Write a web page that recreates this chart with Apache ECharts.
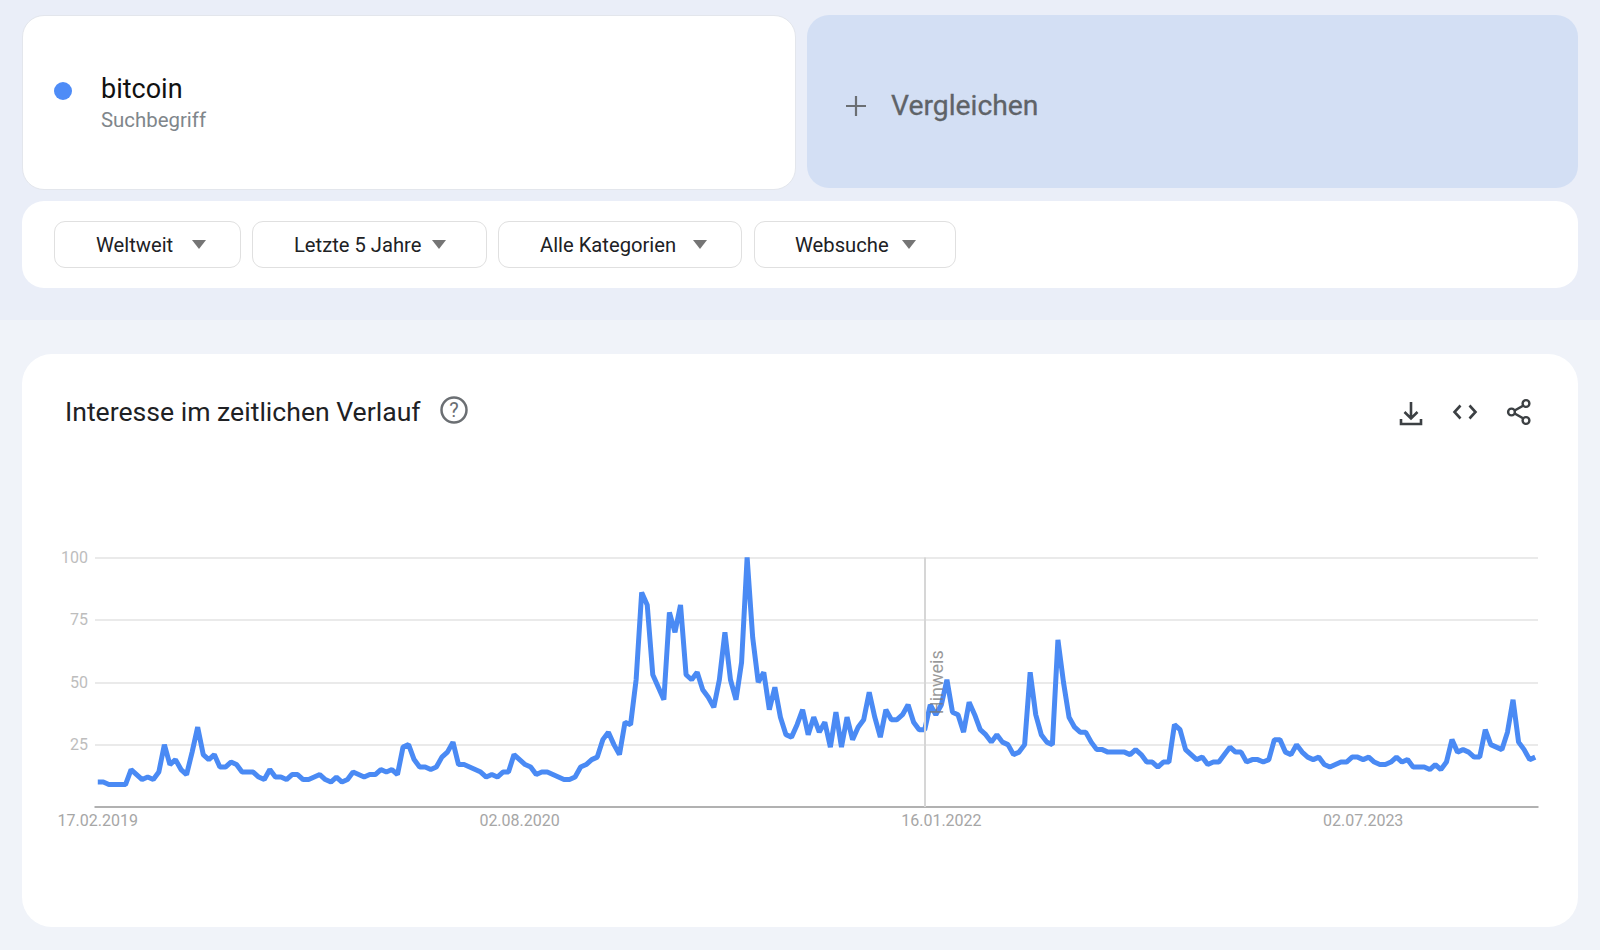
<!DOCTYPE html>
<html><head><meta charset="utf-8">
<script src="https://cdn.jsdelivr.net/npm/echarts@6/dist/echarts.min.js"></script>
<style>
html,body{margin:0;padding:0;width:1600px;height:950px;overflow:hidden;background:#f0f3f9;font-family:Roboto,"Open Sans",sans-serif}
.abs{position:absolute;box-sizing:border-box}
.t{position:absolute;white-space:nowrap;line-height:1}
.btn{position:absolute;box-sizing:border-box;top:221px;height:47px;background:#fff;border:1.5px solid #e0e0e0;border-radius:11px}
.btn span{position:absolute;top:12px;font-size:20.2px;line-height:22px;color:#202124;white-space:nowrap}
.btn i{position:absolute;top:18px;width:0;height:0;border-left:7.5px solid transparent;border-right:7.5px solid transparent;border-top:9px solid #757575}
#chart{position:absolute;left:0;top:0;width:1600px;height:950px}
</style></head><body>
<div class="abs" style="left:0;top:0;width:1600px;height:320px;background:#eaeef8"></div>
<div class="abs" style="left:22px;top:15px;width:774px;height:175px;background:#fff;border:1.5px solid #e3e6ec;border-radius:22px"></div>
<div class="abs" style="left:54px;top:82px;width:18px;height:18px;border-radius:50%;background:#4e8cf7"></div>
<div class="t" style="left:101px;top:76px;font-size:27px;color:#111">bitcoin</div>
<div class="t" style="left:101px;top:110px;font-size:20.4px;color:#80868b">Suchbegriff</div>
<div class="abs" style="left:807px;top:15px;width:771px;height:173px;background:#d3dff4;border-radius:22px"></div>
<svg class="abs" style="left:845px;top:95px" width="22" height="22"><path d="M11 1V21M1 11H21" stroke="#6b6f73" stroke-width="2.2"/></svg>
<div class="t" style="left:891px;top:92px;font-size:28.3px;font-weight:400;color:#5f6368;-webkit-text-stroke:0.3px #5f6368">Vergleichen</div>
<div class="abs" style="left:22px;top:201px;width:1556px;height:87px;background:#fff;border-radius:22px"></div>
<div class="btn" style="left:54px;width:187px"><span style="left:41px">Weltweit</span><i style="left:137px"></i></div>
<div class="btn" style="left:252px;width:235px"><span style="left:41px">Letzte 5 Jahre</span><i style="left:179px"></i></div>
<div class="btn" style="left:498px;width:244px"><span style="left:41px">Alle Kategorien</span><i style="left:194px"></i></div>
<div class="btn" style="left:754px;width:202px"><span style="left:40px">Websuche</span><i style="left:147px"></i></div>
<div class="abs" style="left:22px;top:354px;width:1556px;height:573px;background:#fff;border-radius:30px"></div>
<div class="t" style="left:65px;top:399px;font-size:26.6px;color:#202124">Interesse im zeitlichen Verlauf</div>
<svg class="abs" style="left:440px;top:396px" width="28" height="28"><circle cx="14" cy="14" r="12.5" fill="none" stroke="#6b6f73" stroke-width="2.5"/><text x="14" y="21" text-anchor="middle" font-family="Roboto" font-size="20" fill="#6b6f73">?</text></svg>
<svg class="abs" style="left:1397px;top:399px" width="28" height="28"><path d="M14 3V19M7.5 13L14 19.5L20.5 13M4 20V25H24V20" fill="none" stroke="#3c4043" stroke-width="2.6"/></svg>
<svg class="abs" style="left:1451px;top:399px" width="28" height="28"><path d="M9.5 6.5L3.5 13L9.5 19.5M18.5 6.5L24.5 13L18.5 19.5" fill="none" stroke="#3c4043" stroke-width="2.6"/></svg>
<svg class="abs" style="left:1505px;top:398px" width="28" height="28"><path d="M21 6L7 14L21 22" fill="none" stroke="#3c4043" stroke-width="2.4"/><circle cx="21" cy="5.5" r="3.4" fill="#fff" stroke="#3c4043" stroke-width="2.4"/><circle cx="6.5" cy="14" r="3.4" fill="#fff" stroke="#3c4043" stroke-width="2.4"/><circle cx="21" cy="22.5" r="3.4" fill="#fff" stroke="#3c4043" stroke-width="2.4"/></svg>
<div id="chart"></div>
<script>
const startDate = "2019-02-17";
const xTickLabels = ["17.02.2019","02.08.2020","16.01.2022","02.07.2023"];
const yTickLabels = [25,50,75,100];
const noteLabel = "Hinweis";
const noteIndex = 149;
const bitcoin = [
10,10,9,9,9,9,15,13,11,12,11,14,25,17,19,15,13,22,32,21,19,21,16,16,18,17,14,14,14,12,
11,15,12,12,11,13,13,11,11,12,13,11,10,12,10,11,14,13,12,13,13,15,14,15,13,24,25,19,16,16,
15,16,20,22,26,17,17,16,15,14,12,13,12,14,14,21,19,17,16,13,14,14,13,12,11,11,12,16,17,19,
20,27,30,25,21,34,33,51,86,81,53,48,43,78,70,81,53,51,54,47,44,40,51,70,51,43,58,100,68,50,
54,39,48,36,29,28,33,39,29,36,30,34,24,38,24,36,27,32,35,46,36,28,39,35,35,37,41,34,31,31,
41,37,41,51,38,37,30,42,37,31,29,26,29,26,25,21,22,25,54,37,29,26,25,67,50,36,32,30,30,26,
23,23,22,22,22,22,21,23,21,18,18,16,18,18,33,31,23,21,19,20,17,18,18,21,24,22,22,18,19,19,
18,19,27,27,22,21,25,22,20,19,20,17,16,17,18,18,20,20,19,20,18,17,17,18,20,18,19,16,16,16,
15,17,15,18,27,22,23,22,20,20,31,25,24,23,30,43,26,23,19,20];
const categories = bitcoin.map((_, i) => {
  const d = new Date(Date.parse(startDate + "T00:00:00Z") + i * 7 * 864e5);
  return String(d.getUTCDate()).padStart(2,"0") + "." + String(d.getUTCMonth()+1).padStart(2,"0") + "." + d.getUTCFullYear();
});
const chart = echarts.init(document.getElementById("chart"), null, {renderer:"svg"});
chart.setOption({
  backgroundColor:"transparent",
  animation:false,
  grid:{left:95,right:62,top:557.5,bottom:143},
  xAxis:{type:"category",data:categories,boundaryGap:true,
    axisLine:{lineStyle:{color:"#9e9e9e",width:1.5}},axisTick:{show:false},splitLine:{show:false},
    axisLabel:{interval:(i,v)=>xTickLabels.includes(v),color:"#a6a6a6",fontFamily:"Roboto",fontSize:16,margin:5,hideOverlap:false}},
  yAxis:{type:"value",min:0,max:100,interval:25,
    axisLine:{show:false},axisTick:{show:false},
    splitLine:{lineStyle:{color:"#e3e3e3",width:1.5}},
    axisLabel:{color:"#bdbdbd",fontFamily:"Roboto",fontSize:16,margin:7,formatter:v=>yTickLabels.includes(v)?String(v):""}},
  series:[{type:"line",name:"bitcoin",data:bitcoin,symbol:"none",smooth:false,
    lineStyle:{color:"#4a8af4",width:5},
    markLine:{silent:true,symbol:"none",animation:false,
      lineStyle:{color:"#d6d6d6",width:2,type:"solid"},
      label:{show:true,formatter:noteLabel,position:"middle",rotate:90,color:"rgba(120,120,120,0.75)",fontFamily:"Roboto",fontSize:18,distance:[0,-21]},
      emphasis:{disabled:true},
      data:[{xAxis:noteIndex}]}}]
});
</script>
</body></html>
